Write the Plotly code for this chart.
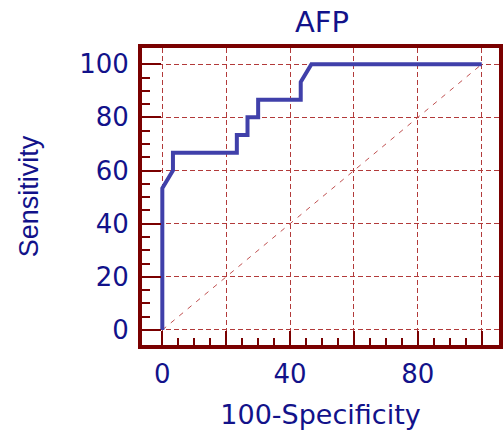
import plotly.graph_objects as go

# ROC curve data (100-Specificity, Sensitivity)
fpr = [0, 0, 3.33, 3.33, 23.33, 23.33, 26.67, 26.67, 30, 30, 43.33, 43.33, 46.67, 100]
tpr = [0, 53.33, 60, 66.67, 66.67, 73.33, 73.33, 80, 80, 86.67, 86.67, 93.33, 100, 100]
diag_x = [0, 100]
diag_y = [0, 100]

x_tickvals = [0, 20, 40, 60, 80, 100]
x_ticktext = ["0", "", "40", "", "80", ""]
y_tickvals = [0, 20, 40, 60, 80, 100]
y_ticktext = ["0", "20", "40", "60", "80", "100"]
minor_vals = [5, 10, 15, 25, 30, 35, 45, 50, 55, 65, 70, 75, 85, 90, 95]

navy = "#12128a"
frame = "#7a0000"
gridc = "#b23a3a"
wide = "DejaVu Sans, sans-serif"
arial = "Liberation Sans, Arial, sans-serif"

fig = go.Figure()
fig.add_trace(go.Scatter(x=diag_x, y=diag_y, mode="lines",
                         line=dict(color="#c05050", width=1, dash="5px,6px"),
                         hoverinfo="skip", showlegend=False))
fig.add_trace(go.Scatter(x=fpr, y=tpr, mode="lines",
                         line=dict(color="#4040aa", width=4),
                         showlegend=False))

fig.update_layout(
    width=503, height=430,
    margin=dict(l=142, r=4, t=48, b=85, autoexpand=False),
    paper_bgcolor="white", plot_bgcolor="white",
    font=dict(family=wide, color=navy, size=26),
    title=dict(text="AFP", x=322 / 503, xanchor="center",
               y=1 - 22 / 430, yanchor="middle", yref="container",
               font=dict(size=29, color=navy, family=wide)),
)

fig.update_xaxes(
    range=[-6.36, 105.4], tickvals=x_tickvals, ticktext=x_ticktext,
    ticks="inside", ticklen=14, tickwidth=2, tickcolor=frame,
    minor=dict(tickvals=minor_vals, ticks="inside", ticklen=7, tickwidth=2,
               tickcolor=frame, showgrid=False),
    showline=True, linewidth=4, linecolor=frame, mirror=True,
    showgrid=True, gridcolor=gridc, gridwidth=1, griddash="5px,3px",
    zeroline=False, tickfont=dict(size=26, color=navy, family=wide),
    ticklabelstandoff=3, automargin=False,
    title=dict(text="100-Specificity", font=dict(size=27, color=navy, family=wide),
               standoff=21),
)
fig.update_yaxes(
    range=[-5.65, 106.1], tickvals=y_tickvals, ticktext=y_ticktext,
    ticks="inside", ticklen=19, tickwidth=2, tickcolor=frame,
    minor=dict(tickvals=minor_vals, ticks="inside", ticklen=8, tickwidth=2,
               tickcolor=frame, showgrid=False),
    showline=True, linewidth=4, linecolor=frame, mirror=True,
    showgrid=True, gridcolor=gridc, gridwidth=1, griddash="5px,3px",
    zeroline=False, tickfont=dict(size=26, color=navy, family=wide),
    ticklabelstandoff=4, automargin=False,
    title=dict(text="Sensitivity", font=dict(size=27, color=navy, family=arial),
               standoff=34),
)

# remove the browser's default 8px body margin so the figure sits at (0, 0)
fig.write_html("out.html", config={"displayModeBar": False},
               post_script="document.body.style.margin='0';")
